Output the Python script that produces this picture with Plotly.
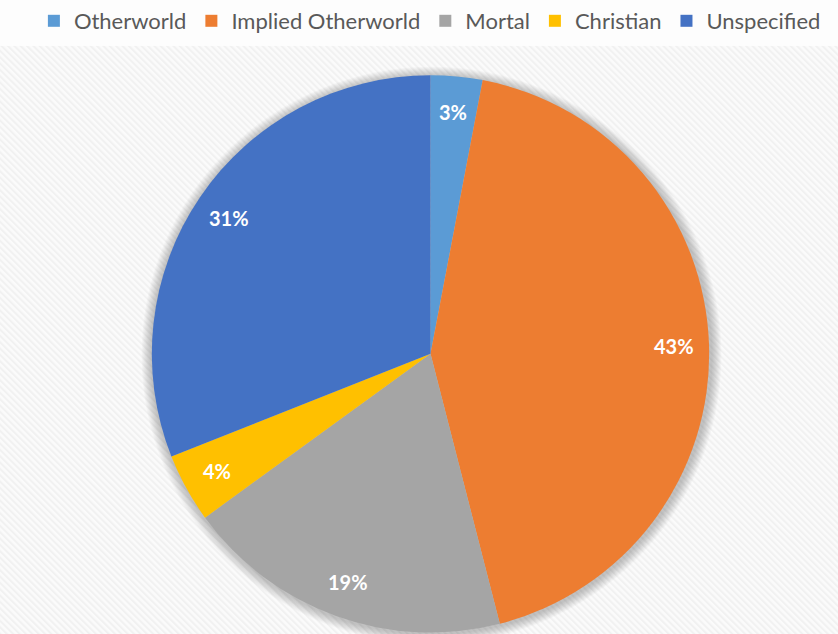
import base64
import math
import plotly.graph_objects as go

# Data
categories = ["Otherworld", "Implied Otherworld", "Mortal", "Christian", "Unspecified"]
shares = [3, 43, 19, 4, 31]
slice_colors = ["#5B9BD5", "#ED7D31", "#A5A5A5", "#FFC000", "#4472C4"]

# Canvas and pie geometry (pixels)
W, H = 838, 634
CX, CY, R = 430.5, 352.5, 280.0
HATCH_TOP = 43
LABEL_RADIUS = 0.87

FONT = "Lato"

fig = go.Figure()

fig.add_trace(go.Pie(
    labels=categories,
    values=shares,
    sort=False,
    direction="clockwise",
    rotation=0,
    marker=dict(colors=slice_colors, line=dict(width=0)),
    textinfo="none",
    hoverinfo="label+percent",
    domain=dict(
        x=[(CX - R) / W, (CX + R) / W],
        y=[1 - (CY + R) / H, 1 - (CY - R) / H],
    ),
))

# Percentage labels, placed near the rim of each slice
total = sum(shares)
annotations = []
cum = 0.0
for v in shares:
    mid = (cum + v / 2) / total * 2 * math.pi
    cum += v
    px = CX + LABEL_RADIUS * R * math.sin(mid)
    py = CY - LABEL_RADIUS * R * math.cos(mid)
    annotations.append(dict(
        x=px / W, y=1 - py / H, xref="paper", yref="paper",
        text=f"<b>{round(v / total * 100)}%</b>", showarrow=False,
        font=dict(family=FONT, size=20, color="white"),
        xanchor="center", yanchor="middle",
    ))

# Soft shadow rings behind the pie
shapes = []
for k in range(10, 0, -1):
    rr = R + k
    ox, oy = 1.0, 1.5
    shapes.append(dict(
        type="circle", xref="paper", yref="paper", layer="below",
        x0=(CX + ox - rr) / W, x1=(CX + ox + rr) / W,
        y0=1 - (CY + oy + rr) / H, y1=1 - (CY + oy - rr) / H,
        fillcolor="rgba(0,0,0,0.022)", line=dict(width=0),
    ))

# Light diagonal hatch behind the plot area
hatch_h = H - HATCH_TOP
svg = f"""<svg xmlns='http://www.w3.org/2000/svg' width='{W}' height='{hatch_h}' viewBox='0 0 {W} {hatch_h}' preserveAspectRatio='none'>
<defs><pattern id='p' patternUnits='userSpaceOnUse' width='4.5' height='4.5' patternTransform='rotate(-45)'>
<rect width='4.5' height='4.5' fill='#fbfbfb'/><rect width='2' height='4.5' fill='#f1f1f1'/></pattern></defs>
<rect width='{W}' height='{hatch_h}' fill='url(#p)'/></svg>"""
src = "data:image/svg+xml;base64," + base64.b64encode(svg.encode()).decode()

fig.update_layout(
    width=W, height=H,
    margin=dict(l=0, r=0, t=0, b=0),
    paper_bgcolor="#fdfdfd",
    plot_bgcolor="#fdfdfd",
    showlegend=True,
    legend=dict(
        orientation="h", x=0.513, xanchor="center", y=1.005, yanchor="top",
        font=dict(family=FONT, size=22, color="#595959"),
        itemsizing="constant", bgcolor="rgba(0,0,0,0)", traceorder="normal",
    ),
    annotations=annotations,
    shapes=shapes,
    images=[dict(
        source=src, xref="paper", yref="paper",
        x=0, y=1 - HATCH_TOP / H, sizex=1, sizey=hatch_h / H,
        xanchor="left", yanchor="top", sizing="stretch", layer="below",
    )],
)

fig.write_html("out.html")
